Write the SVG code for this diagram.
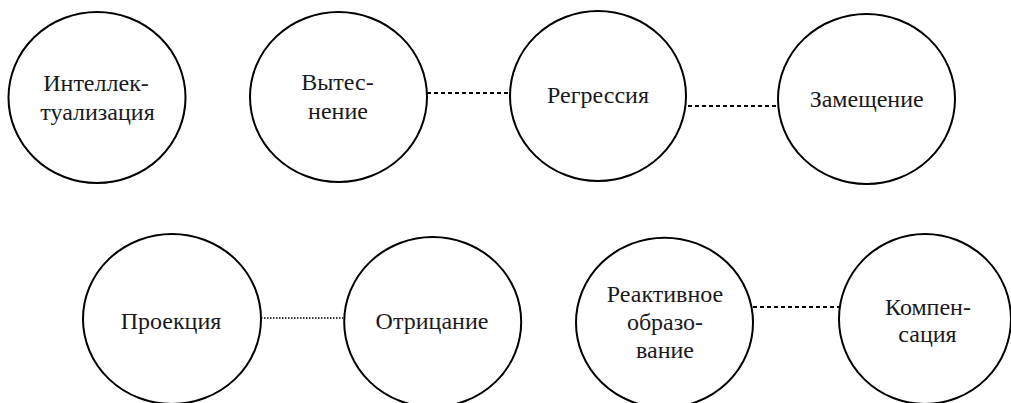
<svg xmlns="http://www.w3.org/2000/svg" width="1011" height="403" viewBox="0 0 1011 403">
  <style>
    .node ellipse { fill: #ffffff; stroke: #000000; stroke-width: 2; }
    .node text { font-family: "Times New Roman", "Liberation Serif", Tinos, "DejaVu Serif", serif; font-size: 24px; fill: #1a1a1a; text-anchor: middle; }
    .link { stroke: #000000; stroke-width: 2; fill: none; }
    .dash { stroke-dasharray: 4 3; }
    .dot { stroke-width: 1.5; stroke-dasharray: 1.5 1.5; }
  </style>
  <rect width="1011" height="403" fill="#ffffff"/>

  <!-- connectors -->
  <g id="connectors">
    <line class="link dash" x1="427" y1="93" x2="521" y2="93"/>
    <line class="link dash" x1="688" y1="106" x2="781" y2="106"/>
    <line class="link dot" x1="261" y1="318" x2="343" y2="318"/>
    <line class="link dash" x1="753" y1="307" x2="842" y2="307"/>
  </g>

  <!-- top row -->
  <g id="intellectualization" class="node">
    <ellipse cx="97" cy="97.5" rx="88.5" ry="85.5"/>
    <text x="96" y="91">Интеллек-</text>
    <text x="97.5" y="120">туализация</text>
  </g>
  <g id="repression" class="node">
    <ellipse cx="338.5" cy="97" rx="88.5" ry="85"/>
    <text x="337.5" y="90">Вытес-</text>
    <text x="338" y="118.7">нение</text>
  </g>
  <g id="regression" class="node">
    <ellipse cx="598" cy="96" rx="88" ry="85"/>
    <text x="598" y="102.7">Регрессия</text>
  </g>
  <g id="substitution" class="node">
    <ellipse cx="866.5" cy="99" rx="88.5" ry="85"/>
    <text x="866.7" y="107.3">Замещение</text>
  </g>

  <!-- bottom row -->
  <g id="projection" class="node">
    <ellipse cx="172" cy="319" rx="89" ry="85"/>
    <text x="171" y="328.7">Проекция</text>
  </g>
  <g id="denial" class="node">
    <ellipse cx="432.7" cy="322" rx="88.5" ry="85"/>
    <text x="432" y="328.7">Отрицание</text>
  </g>
  <g id="reaction-formation" class="node">
    <ellipse cx="664.5" cy="322.7" rx="88.5" ry="85"/>
    <text x="665" y="302.3">Реактивное</text>
    <text x="665" y="330">образо-</text>
    <text x="665" y="357.7">вание</text>
  </g>
  <g id="compensation" class="node">
    <ellipse cx="925" cy="319" rx="86" ry="85"/>
    <text x="928" y="315">Компен-</text>
    <text x="927.5" y="342.3">сация</text>
  </g>
</svg>
